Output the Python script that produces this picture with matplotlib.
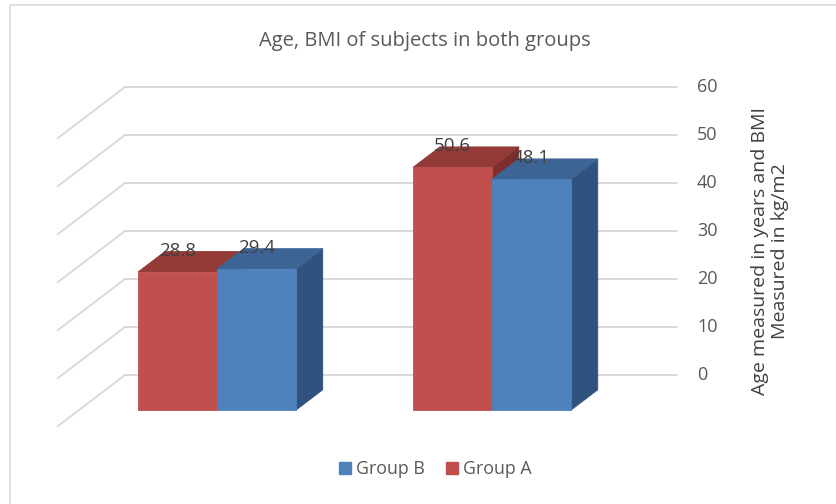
import matplotlib
matplotlib.use("Agg")
import matplotlib.pyplot as plt
from matplotlib.patches import Polygon
from matplotlib.lines import Line2D

plt.rcParams['font.family'] = ['Open Sans', 'DejaVu Sans']

# data
groups = ["Group 1", "Group 2"]
group_a = [28.8, 50.6]
group_b = [29.4, 48.1]
series_names = ["Group A", "Group B"]
yticks = [0, 10, 20, 30, 40, 50, 60]

# colours (front, top, side)
red = ("#C0504D", "#943B38", "#7E2F2D")
blue = ("#4F81BD", "#3C6494", "#30527F")
grid_col = "#D9D9D9"
text_col = "#595959"

# oblique projection: depth 0 = front plane, depth 1 = back wall
DX = 0.2436   # x shift per unit depth (category units)
DY = 10.625   # y shift per unit depth (value units)


def proj(x, v, d):
    return (x + DX * d, v + DY * d)


fig = plt.figure(figsize=(8.37, 5.04), dpi=100)
ax = fig.add_axes([0, 0, 1, 1])
ax.set_xlim(-0.7135, 2.330)
ax.set_ylim(-16.25, 88.75)
ax.axis('off')

# walls: back gridlines + side diagonals
wall_l, wall_r = -0.5025, 1.504
for v in yticks:
    p0 = proj(wall_l, v, 0)
    p1 = proj(wall_l, v, 1)
    p2 = proj(wall_r, v, 1)
    ax.plot([p0[0], p1[0], p2[0]], [p0[1], p1[1], p2[1]],
            color=grid_col, lw=1.4, zorder=1, solid_joinstyle='miter')
    tx, ty = proj(1.577, v, 1)
    ax.text(tx, ty, str(v), ha='left', va='center', fontsize=13,
            color=text_col)

# 3d bars
w = 0.287
d0, d1 = 0.31, 0.71
z = 2
for gi in range(len(groups)):
    cx = gi
    for vals, cols, x0 in ((group_a, red, cx - w), (group_b, blue, cx)):
        v = vals[gi]
        x1 = x0 + w
        front = [proj(x0, 0, d0), proj(x1, 0, d0), proj(x1, v, d0), proj(x0, v, d0)]
        top = [proj(x0, v, d0), proj(x1, v, d0), proj(x1, v, d1), proj(x0, v, d1)]
        side = [proj(x1, 0, d0), proj(x1, 0, d1), proj(x1, v, d1), proj(x1, v, d0)]
        for pts, c in ((side, cols[2]), (top, cols[1]), (front, cols[0])):
            ax.add_patch(Polygon(pts, closed=True, facecolor=c, edgecolor=c,
                                 lw=0.6, zorder=z))
            z += 1
        lx, ly = proj(x0 + w / 2, v, d0)
        ax.annotate(f"{v}", xy=(lx, ly), xytext=(0, 15),
                    textcoords='offset points', ha='center', va='center',
                    fontsize=13.5, color="#404040", zorder=50)

fig.text(0.508, 0.918, "Age, BMI of subjects in both groups", ha='center',
         va='center', fontsize=14.5, color=text_col)

fig.text(0.920, 0.502, "Age measured in years and BMI\nMeasured in kg/m2",
         rotation=90, ha='center', va='center', multialignment='center',
         fontsize=14, color="#404040", linespacing=1.15)

handles = [Line2D([], [], marker='s', ls='none', markersize=8,
                  color=blue[0]),
           Line2D([], [], marker='s', ls='none', markersize=8,
                  color=red[0])]
fig.legend(handles, [series_names[1], series_names[0]], loc='center',
           bbox_to_anchor=(0.52, 0.069), ncol=2, frameon=False,
           fontsize=12.8, labelcolor=text_col, handlelength=0.7,
           handletextpad=0.25, columnspacing=1.2)

# chart area border (left and top edges)
fig.add_artist(Line2D([0.012, 0.012, 1.0], [0.0, 0.99, 0.99],
                      transform=fig.transFigure, color=grid_col, lw=1.2))

fig.savefig("out.png", dpi=100)
